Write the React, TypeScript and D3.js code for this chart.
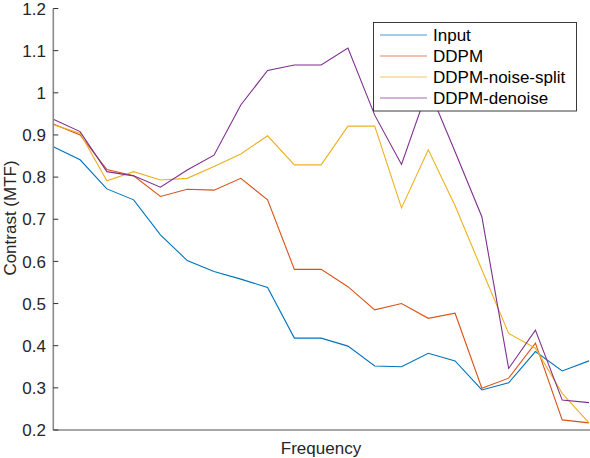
import * as d3 from "d3";

const frequency = d3.range(1, 22);

const inputMtf = [0.872, 0.841, 0.772, 0.746, 0.663, 0.602, 0.576, 0.558, 0.538, 0.418, 0.418,
  0.399, 0.352, 0.350, 0.382, 0.364, 0.295, 0.312, 0.386, 0.340, 0.364];
const ddpmMtf = [0.926, 0.900, 0.818, 0.803, 0.754, 0.771, 0.769, 0.797, 0.746, 0.581, 0.581,
  0.540, 0.485, 0.500, 0.465, 0.477, 0.299, 0.323, 0.406, 0.224, 0.217];
const noiseSplitMtf = [0.924, 0.904, 0.791, 0.813, 0.793, 0.797, 0.825, 0.855, 0.898, 0.829, 0.829,
  0.921, 0.921, 0.727, 0.865, 0.732, 0.580, 0.429, 0.394, 0.287, 0.217];
const denoiseMtf = [0.937, 0.908, 0.813, 0.803, 0.776, 0.817, 0.852, 0.971, 1.053, 1.066, 1.066,
  1.106, 0.947, 0.830, 1.012, 0.860, 0.706, 0.346, 0.437, 0.271, 0.265];

const seriesNames = ["Input", "DDPM", "DDPM-noise-split", "DDPM-denoise"];
const seriesColors = ["#0072BD", "#D95319", "#EDB120", "#7E2F8E"];
const yTicks = [0.2, 0.3, 0.4, 0.5, 0.6, 0.7, 0.8, 0.9, 1, 1.1, 1.2];

const W = 590;
const H = 458;
const font = "'Liberation Sans', Arial, Helvetica, sans-serif";

export default function App() {
  const x = d3.scaleLinear().domain([1, 21]).range([53.3, 589]);
  const y = d3.scaleLinear().domain([0.2, 1.2]).range([430, 8.5]);
  const line = d3.line<number>()
    .x((_, i) => x(frequency[i]))
    .y(d => y(d));

  const all = [inputMtf, ddpmMtf, noiseSplitMtf, denoiseMtf];
  const axisColor = "#8a8a8a";

  return (
    <div style={{ position: "absolute", left: 0, top: 0 }}>
      <svg width={W} height={H} style={{ display: "block", background: "#fff" }} fontFamily={font}>
        {/* series */}
        {all.map((s, k) => (
          <path key={k} d={line(s) ?? ""} fill="none" stroke={seriesColors[k]} strokeWidth={1.1} />
        ))}

        {/* axes */}
        <line x1={x(1)} x2={x(1)} y1={y(1.2)} y2={y(0.2)} stroke={axisColor} strokeWidth={1.6} />
        <line x1={x(1)} x2={W} y1={y(0.2)} y2={y(0.2)} stroke={axisColor} strokeWidth={1.6} />
        {yTicks.map(t => (
          <g key={t}>
            <line x1={x(1)} x2={x(1) + 5} y1={y(t)} y2={y(t)} stroke="#333" strokeWidth={1} />
            <text x={46} y={y(t)} dy="0.36em" textAnchor="end" fontSize={17} fill="#262626">
              {d3.format("~g")(t)}
            </text>
          </g>
        ))}

        <text transform={`translate(15.5,218) rotate(-90)`} textAnchor="middle" fontSize={17} fill="#262626">
          Contrast (MTF)
        </text>
        <text x={321} y={454} textAnchor="middle" fontSize={17} fill="#262626">Frequency</text>

        {/* legend */}
        <rect x={373.5} y={22.5} width={203} height={88.5} fill="#fff" stroke="#262626" strokeWidth={0.9} />
        {seriesNames.map((n, k) => {
          const ly = 35 + k * 21;
          return (
            <g key={n}>
              <line x1={380} x2={427} y1={ly} y2={ly} stroke={seriesColors[k]} strokeWidth={1.1} strokeOpacity={0.7} />
              <text x={433} y={ly} dy="0.36em" fontSize={17} fill="#000">{n}</text>
            </g>
          );
        })}
      </svg>
    </div>
  );
}
